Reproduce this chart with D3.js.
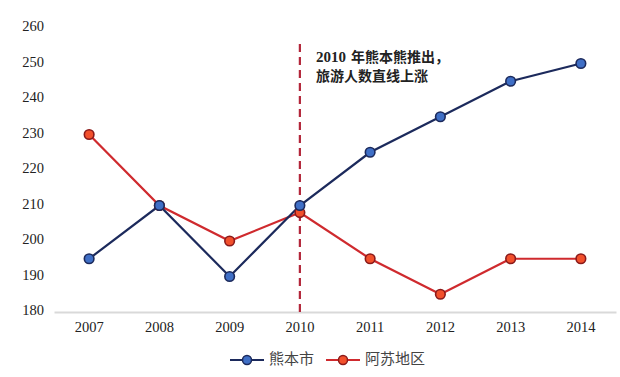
<!DOCTYPE html>
<html>
<head>
<meta charset="utf-8">
<script src="https://cdn.jsdelivr.net/npm/d3@7"></script>
<style>
  body { margin: 0; background: #fff; }
  svg { display: block; }
</style>
</head>
<body>
<svg id="chart" width="620" height="377"></svg>
<script>
const years = ['2007', '2008', '2009', '2010', '2011', '2012', '2013', '2014'];
const kumamoto = [195, 210, 190, 210, 225, 235, 245, 250];
const aso = [230, 210, 200, 208, 195, 185, 195, 195];
const yTicks = [180, 190, 200, 210, 220, 230, 240, 250, 260];
const seriesNames = ['熊本市', '阿苏地区'];
const markerYear = '2010';
const noteLines = ['2010 年熊本熊推出，', '旅游人数直线上涨'];

const NAVY = '#1c2a5c';
const BLUE_FILL = '#3f6fc6';
const RED = '#cf2a2e';
const RED_FILL = '#f2502c';
const DASH = '#b3263a';
const TEXT_COLOR = '#222';
const SERIF = '"Liberation Serif", "Times New Roman", serif';
const CJK = '"Noto Sans CJK SC", sans-serif';

const svg = d3.select('#chart');

const x = d3.scaleBand().domain(years).range([54, 616]);
const y = d3.scaleLinear().domain([180, 260]).range([312, 28]);
const cx = d => x(d) + x.bandwidth() / 2;

// y tick labels (no axis line)
svg.append('g')
    .selectAll('text')
    .data(yTicks)
    .enter().append('text')
    .attr('x', 44)
    .attr('y', d => y(d))
    .attr('text-anchor', 'end')
    .attr('dominant-baseline', 'middle')
    .style('font-family', SERIF)
    .style('font-size', '14.5px')
    .style('fill', TEXT_COLOR)
    .text(d => d);

// x axis
const xAxis = svg.append('g')
    .attr('transform', `translate(0,${y(180)})`)
    .call(d3.axisBottom(x).tickSize(0).tickPadding(10));
xAxis.select('.domain').attr('stroke', '#d9d9d9').attr('stroke-width', 2);
xAxis.selectAll('text')
    .style('font-family', SERIF)
    .style('font-size', '14.5px')
    .style('fill', TEXT_COLOR);

// dashed marker line
svg.append('line')
    .attr('x1', cx(markerYear)).attr('x2', cx(markerYear))
    .attr('y1', 44).attr('y2', y(180))
    .attr('stroke', DASH)
    .attr('stroke-width', 2.2)
    .attr('stroke-dasharray', '8,5');

// annotation
svg.append('g')
    .selectAll('text')
    .data(noteLines)
    .enter().append('text')
    .attr('x', 316)
    .attr('y', (d, i) => 62 + i * 19)
    .style('font-family', CJK)
    .style('font-weight', 'bold')
    .style('font-size', '14px')
    .style('fill', '#222')
    .each(function (d, i) {
        const t = d3.select(this);
        if (i === 0) {
            t.append('tspan').style('font-family', SERIF).style('font-size', '15px').text(d.slice(0, 4));
            t.append('tspan').attr('dx', 5).text(d.slice(5));
        } else {
            t.text(d);
        }
    });

const series = [
    { name: seriesNames[0], values: kumamoto, stroke: NAVY, fill: BLUE_FILL },
    { name: seriesNames[1], values: aso, stroke: RED, fill: RED_FILL, edge: '#8a1a1a' }
];

const line = d3.line()
    .x((d, i) => cx(years[i]))
    .y(d => y(d));

// draw red first so blue 2010 marker sits above
series.slice().reverse().forEach(s => {
    svg.append('path')
        .datum(s.values)
        .attr('d', line)
        .attr('fill', 'none')
        .attr('stroke', s.stroke)
        .attr('stroke-width', 2.2);
});
series.slice().reverse().forEach(s => {
    svg.append('g')
        .selectAll('circle')
        .data(s.values)
        .enter().append('circle')
        .attr('cx', (d, i) => cx(years[i]))
        .attr('cy', d => y(d))
        .attr('r', 4.8)
        .attr('fill', s.fill)
        .attr('stroke', s.edge || s.stroke)
        .attr('stroke-width', 1.6);
});

// legend
const legend = svg.append('g').attr('transform', 'translate(0,360)');
const legendX = [230, 326];
series.forEach((s, i) => {
    const g = legend.append('g').attr('transform', `translate(${legendX[i]},0)`);
    g.append('line')
        .attr('x1', 0).attr('x2', 34)
        .attr('stroke', s.stroke).attr('stroke-width', 2.2);
    g.append('circle')
        .attr('cx', 17).attr('r', 4.5)
        .attr('fill', s.fill)
        .attr('stroke', s.edge || s.stroke)
        .attr('stroke-width', 1.5);
    g.append('text')
        .attr('x', 39)
        .attr('dominant-baseline', 'middle')
        .style('font-family', CJK)
        .style('font-size', '15px')
        .style('fill', '#444')
        .text(s.name);
});
</script>
</body>
</html>
